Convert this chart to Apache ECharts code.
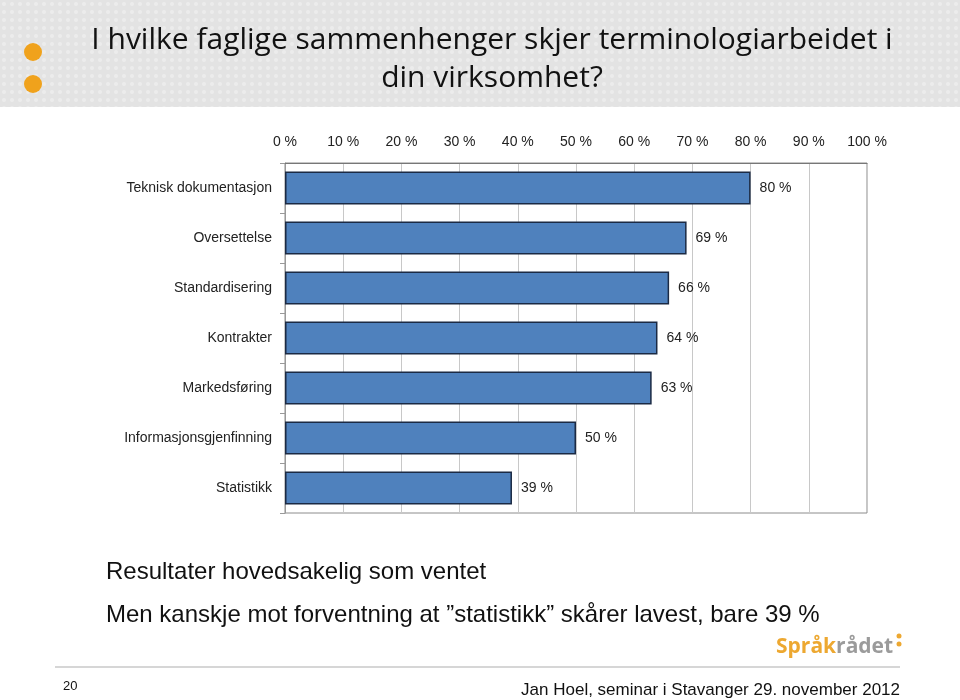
<!DOCTYPE html>
<html><head><meta charset="utf-8">
<script src="https://cdn.jsdelivr.net/npm/echarts@6/dist/echarts.min.js"></script>
<style>html,body{margin:0;padding:0;background:#fff}#c{width:960px;height:700px}</style>
</head><body><div id="c"></div>
<script>
const categories = ["Teknisk dokumentasjon","Oversettelse","Standardisering","Kontrakter","Markedsføring","Informasjonsgjenfinning","Statistikk"];
const values = [80, 69, 66, 64, 63, 50, 39];
const tickLabels = ["0 %","10 %","20 %","30 %","40 %","50 %","60 %","70 %","80 %","90 %","100 %"];

const pc = document.createElement('canvas');
pc.width = 8; pc.height = 8;
const pctx = pc.getContext('2d');
pctx.fillStyle = '#e3e3e3'; pctx.fillRect(0,0,8,8);
pctx.fillStyle = '#ececec'; pctx.beginPath(); pctx.arc(4,4,2,0,Math.PI*2); pctx.fill();

const chart = echarts.init(document.getElementById('c'), null, {renderer:'canvas'});
const F = 'Liberation Sans, Arial, sans-serif';
chart.setOption({
  animation:false,
  backgroundColor:'#fff',
  grid:{left:285,right:93,top:163,bottom:187,show:true,borderColor:'#8c8c8c',borderWidth:1,backgroundColor:'transparent'},
  xAxis:{type:'value',position:'top',min:0,max:100,interval:10,
    axisLine:{show:true,lineStyle:{color:'#777',width:1}},
    axisTick:{show:false},
    splitLine:{show:true,lineStyle:{color:'#c8c8c8',width:1}},
    axisLabel:{color:'#222',fontFamily:F,fontSize:14,margin:14,formatter:(v)=>tickLabels[Math.round(v/10)]}
  },
  yAxis:{type:'category',data:categories,inverse:true,
    axisLine:{show:true,lineStyle:{color:'#999'}},
    axisTick:{show:true,inside:false,length:5,lineStyle:{color:'#999'}},
    axisLabel:{color:'#222',fontFamily:F,fontSize:14,margin:13}
  },
  series:[{type:'bar',data:values,barWidth:'66%',
    itemStyle:{color:'#4F81BD',borderColor:'#1b2a44',borderWidth:1.5},
    label:{show:true,position:'right',distance:9,color:'#222',fontFamily:F,fontSize:14,formatter:(p)=>p.value+' %'}
  }],
  graphic:[
    {type:'rect',shape:{x:0,y:0,width:960,height:107},style:{fill:{image:pc,repeat:'repeat'}},z:-10},
    {type:'circle',shape:{cx:33,cy:52,r:9},style:{fill:'#F0A21C'}},
    {type:'circle',shape:{cx:33,cy:84,r:9},style:{fill:'#F0A21C'}},
    {type:'text',x:492,y:40,style:{text:'I hvilke faglige sammenhenger skjer terminologiarbeidet i',font:'30px "Open Sans", sans-serif',fill:'#111',align:'center',verticalAlign:'middle'}},
    {type:'text',x:492,y:78,style:{text:'din virksomhet?',font:'30px "Open Sans", sans-serif',fill:'#111',align:'center',verticalAlign:'middle'}},
    {type:'text',x:106,y:572,style:{text:'Resultater hovedsakelig som ventet',font:'24px "Liberation Sans", Arial, sans-serif',fill:'#111',verticalAlign:'middle'}},
    {type:'text',x:106,y:615,style:{text:'Men kanskje mot forventning at \u201dstatistikk\u201d skårer lavest, bare 39 %',font:'24px "Liberation Sans", Arial, sans-serif',fill:'#111',verticalAlign:'middle'}},
    {type:'text',x:776,y:647,style:{rich:{a:{fill:'#EDA831',font:'bold 21px "Open Sans", sans-serif'},b:{fill:'#9b9b9b',font:'bold 21px "Open Sans", sans-serif'}},text:'{a|Språk}{b|rådet}',verticalAlign:'middle'}},
    {type:'circle',shape:{cx:899,cy:636,r:2.5},style:{fill:'#EDA831'}},
    {type:'circle',shape:{cx:899,cy:644,r:2.5},style:{fill:'#EDA831'}},
    {type:'line',shape:{x1:55,y1:667,x2:900,y2:667},style:{stroke:'#c8c8c8',lineWidth:1.5}},
    {type:'text',x:63,y:686,style:{text:'20',font:'13px "Liberation Sans", Arial, sans-serif',fill:'#111',verticalAlign:'middle'}},
    {type:'text',x:900,y:690,style:{text:'Jan Hoel, seminar i Stavanger 29. november 2012',font:'17px "Liberation Sans", Arial, sans-serif',fill:'#111',align:'right',verticalAlign:'middle'}}
  ]
});
</script></body></html>
